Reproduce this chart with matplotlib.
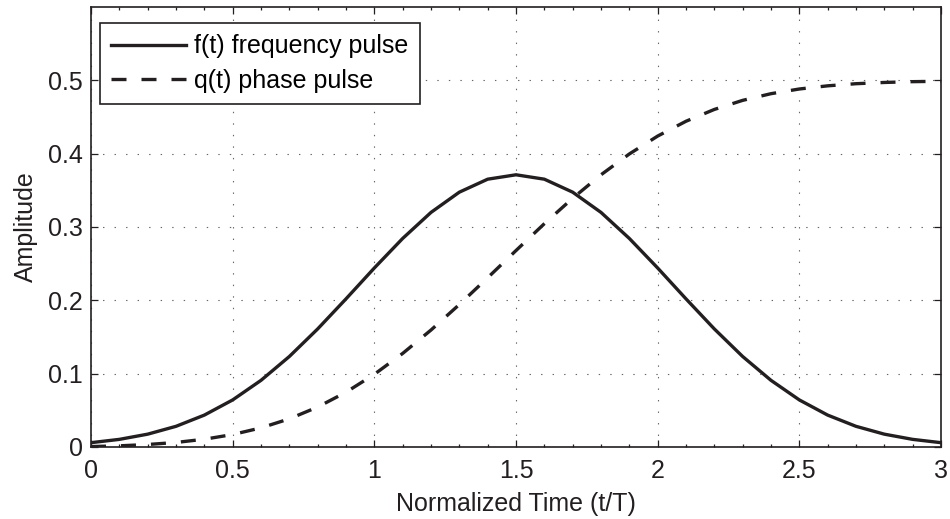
import matplotlib
matplotlib.use("Agg")
import matplotlib.pyplot as plt
from matplotlib.ticker import MultipleLocator

plt.rcParams['font.family'] = ['Liberation Sans', 'DejaVu Sans']
plt.rcParams['lines.scale_dashes'] = False

t = [0.0, 0.1, 0.2, 0.3, 0.4, 0.5, 0.6, 0.7, 0.8, 0.9, 1.0,
     1.1, 1.2, 1.3, 1.4, 1.5, 1.6, 1.7, 1.8, 1.9, 2.0,
     2.1, 2.2, 2.3, 2.4, 2.5, 2.6, 2.7, 2.8, 2.9, 3.0]
f_vals = [0.0059, 0.0104, 0.0175, 0.0282, 0.0435, 0.0642, 0.0909, 0.1234, 0.1610, 0.2020, 0.2441,
          0.2844, 0.3199, 0.3475, 0.3652, 0.3712, 0.3652, 0.3475, 0.3199, 0.2844, 0.2441,
          0.2020, 0.1610, 0.1234, 0.0909, 0.0642, 0.0435, 0.0282, 0.0175, 0.0104, 0.0059]
q_vals = [0.0006, 0.0016, 0.0034, 0.0062, 0.0106, 0.0170, 0.0261, 0.0384, 0.0545, 0.0747, 0.0991,
          0.1276, 0.1595, 0.1943, 0.2308, 0.2679, 0.3045, 0.3392, 0.3712, 0.3996, 0.4240,
          0.4442, 0.4603, 0.4727, 0.4818, 0.4882, 0.4925, 0.4954, 0.4971, 0.4982, 0.4987]
x_ticks = [0, 0.5, 1, 1.5, 2, 2.5, 3]
x_labels = ['0', '0.5', '1', '1.5', '2', '2.5', '3']
y_ticks = [0, 0.1, 0.2, 0.3, 0.4, 0.5]
y_labels = ['0', '0.1', '0.2', '0.3', '0.4', '0.5']

ink = '#231f20'
fig = plt.figure(figsize=(9.5, 5.19), dpi=100)
ax = fig.add_axes([91/950, 1-447/519, (941-91)/950, (447-7)/519])

ax.plot(t, f_vals, color=ink, lw=2.4, label='f(t) frequency pulse')
ax.plot(t, q_vals, color=ink, lw=2.4, ls=(0, (10.8, 10.8)), label='q(t) phase pulse')

ax.set_xlim(0, 3)
ax.set_ylim(0, 0.6)
ax.set_xticks(x_ticks)
ax.set_xticklabels(x_labels)
ax.xaxis.set_minor_locator(MultipleLocator(0.1))
ax.set_yticks(y_ticks)
ax.set_yticklabels(y_labels)
ax.tick_params(which='both', direction='in', top=True, right=True, labelsize=18, colors=ink)
ax.tick_params(which='major', length=5, width=0.9)
ax.tick_params(which='minor', length=2.5, width=0.9)
ax.tick_params(axis='x', pad=9)
ax.tick_params(axis='y', pad=6)
for s in ax.spines.values():
    s.set_linewidth(1.2)
    s.set_color(ink)

ax.grid(True, which='major', color='#666666', lw=0.8, ls=(0, (1, 7.3)))

ax.set_xlabel('Normalized Time (t/T)', fontsize=18, color=ink, labelpad=6)
ax.set_ylabel('Amplitude', fontsize=18, color=ink, labelpad=7)

leg = ax.legend(loc='upper left', bbox_to_anchor=(9/850, 1-16/440), fontsize=18, frameon=True,
                fancybox=False, edgecolor=ink, framealpha=1, handlelength=3.0,
                borderaxespad=0, handletextpad=0.32, labelspacing=0.42, borderpad=0.45)
leg.get_frame().set_linewidth(1.2)

fig.savefig('out.png', dpi=100)
